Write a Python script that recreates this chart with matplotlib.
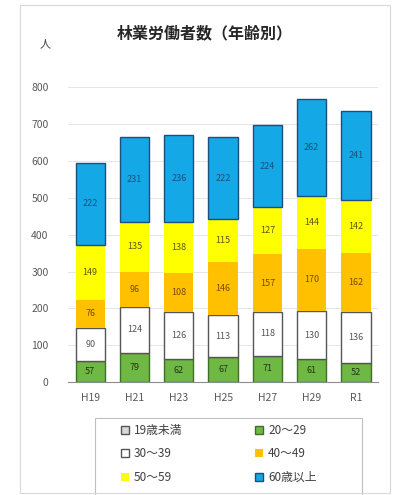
import numpy as np
import matplotlib.pyplot as plt
from matplotlib.patches import Rectangle

plt.rcParams['font.family'] = ['Noto Sans CJK JP', 'DejaVu Sans']

years = ["H19", "H21", "H23", "H25", "H27", "H29", "R1"]
age_groups = ["19歳未満", "20〜29", "30〜39", "40〜49", "50〜59", "60歳以上"]

under19 = [1, 1, 1, 1, 1, 1, 1]
age20s = [57, 79, 62, 67, 71, 61, 52]
age30s = [90, 124, 126, 113, 118, 130, 136]
age40s = [76, 96, 108, 146, 157, 170, 162]
age50s = [149, 135, 138, 115, 127, 144, 142]
over60 = [222, 231, 236, 222, 224, 262, 241]

series = [under19, age20s, age30s, age40s, age50s, over60]
face_colors = ["#d9d9d9", "#70b844", "#ffffff", "#ffc000", "#ffff00", "#14a8e6"]
edge_colors = ["#555555", "#3f6e2a", "#555555", "none", "none", "#1f4e79"]
label_colors = [None, "#1f3a10", "#555555", "#7a4a00", "#5a5a00", "#1f4e79"]

fig = plt.figure(figsize=(3.98, 4.95), dpi=100)
ax = fig.add_axes([0.171, 0.228, 0.779, 0.596])

x = np.arange(len(years))
bottom = np.zeros(len(years))
handles = []
for vals, name, fc, ec, lc in zip(series, age_groups, face_colors, edge_colors, label_colors):
    vals = np.array(vals, dtype=float)
    bars = ax.bar(x, vals, 0.66, bottom=bottom, color=fc,
                  edgecolor=ec, linewidth=1.0 if ec != "none" else 0, label=name)
    handles.append(bars)
    if lc is not None:
        for xi, b, v in zip(x, bottom, vals):
            ax.text(xi, b + v / 2, f"{int(v)}", ha="center", va="center",
                    fontsize=6.5, color=lc)
    bottom += vals

ax.set_xlim(-0.5, len(years) - 0.5)
ax.set_ylim(0, 800)
ax.set_yticks(range(0, 801, 100))
ax.set_xticks(x)
ax.set_xticklabels(years)
ax.tick_params(axis="both", length=0, labelsize=7.5, colors="#595959")
ax.tick_params(axis="y", pad=14)
ax.tick_params(axis="x", pad=8)
ax.grid(axis="y", color="#e6e6e6", linewidth=0.7)
ax.set_axisbelow(True)
for side in ["top", "right", "left"]:
    ax.spines[side].set_visible(False)
ax.spines["bottom"].set_color("#8c8c8c")

fig.text(0.515, 0.932, "林業労働者数（年齢別）", ha="center", va="center",
         fontsize=11.5, fontweight="bold", color="#262626")
fig.text(0.113, 0.91, "人", ha="center", va="center", fontsize=8, color="#404040")

# legend reads row by row: reorder for matplotlib's column-first filling
order = [0, 2, 4, 1, 3, 5]
leg = fig.legend(handles=[handles[i] for i in order],
                 labels=[age_groups[i] for i in order], ncol=2,
                 loc="upper left", bbox_to_anchor=(0.285, 0.158),
                 fontsize=8.5, frameon=False,
                 handlelength=0.7, handleheight=0.7, handletextpad=0.4,
                 columnspacing=6.2, labelspacing=0.9, borderpad=0.6,
                 borderaxespad=0)
for t in leg.get_texts():
    t.set_color("#404040")

# legend box runs past the bottom edge of the chart
fig.patches.append(Rectangle((0.239, -0.05), 0.671, 0.206, transform=fig.transFigure,
                             fill=False, edgecolor="#bfbfbf", linewidth=0.8))

# chart area border
fig.patches.append(Rectangle((0.05, 0.004), 0.93, 0.986, transform=fig.transFigure,
                             fill=False, edgecolor="#d9d9d9", linewidth=0.8))

fig.savefig("out.png", dpi=100)
plt.close(fig)
